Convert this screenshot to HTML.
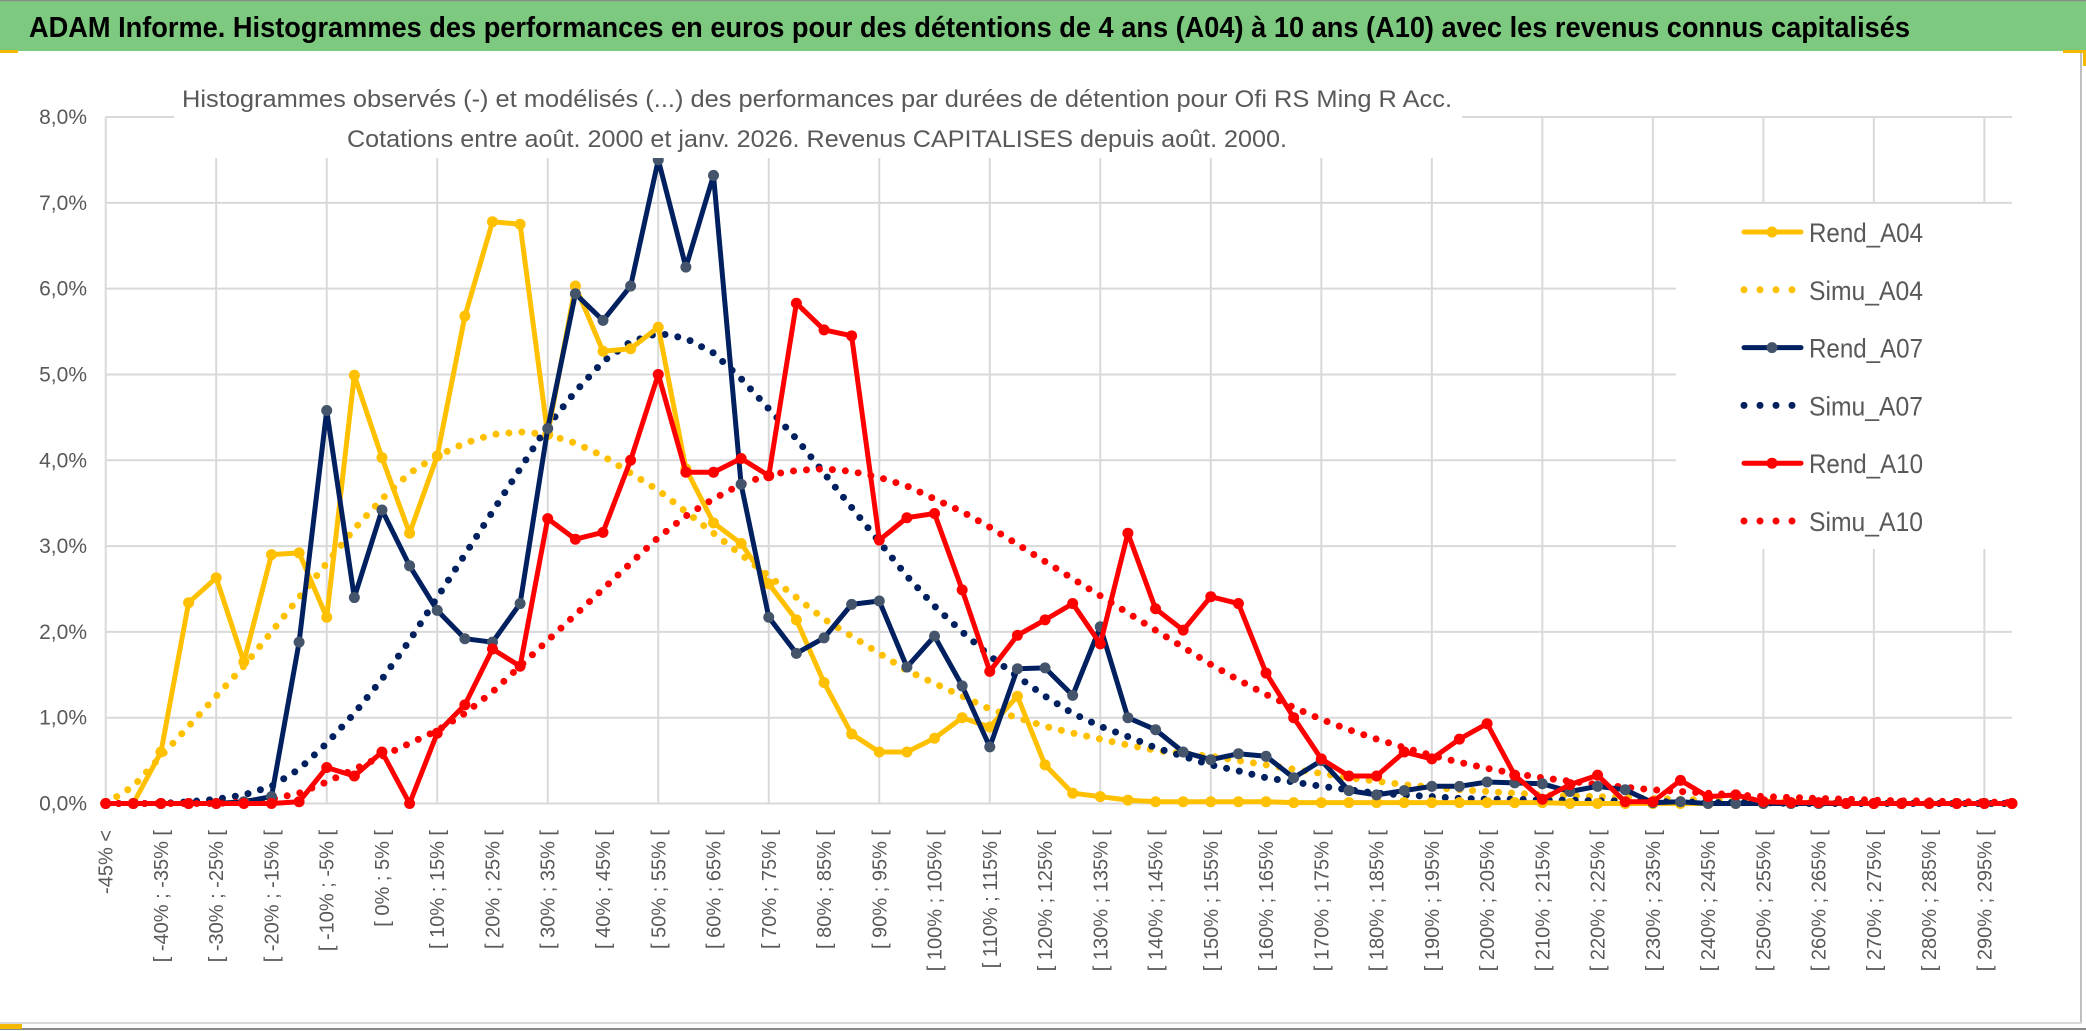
<!DOCTYPE html>
<html><head><meta charset="utf-8">
<style>
html,body{margin:0;padding:0;background:#fff;}
svg{display:block;font-family:"Liberation Sans",sans-serif;}
</style></head>
<body>
<svg id="chart" width="2086" height="1031" viewBox="0 0 2086 1031" xmlns="http://www.w3.org/2000/svg">
  <rect x="0" y="0" width="2086" height="1031" fill="#ffffff"/>
  <rect x="0" y="0" width="2086" height="51" fill="#7dc97f"/>
  <line x1="0" y1="0.5" x2="2086" y2="0.5" stroke="#8a8a8a" stroke-width="1.5"/>
  <text x="29" y="37" font-size="29" font-weight="bold" fill="#000" textLength="1881" lengthAdjust="spacingAndGlyphs">ADAM Informe. Histogrammes des performances en euros pour des détentions de 4 ans (A04) à 10 ans (A10) avec les revenus connus capitalisés</text>
  <rect x="0" y="50" width="18" height="3" fill="#f5b800"/>
  <rect x="2063" y="50" width="23" height="3" fill="#f5b800"/>
  <rect x="2083" y="50" width="3" height="16" fill="#f5b800"/>
  <line x1="2081" y1="53" x2="2081" y2="1023" stroke="#bfbfbf" stroke-width="2"/>
  <line x1="0" y1="1023" x2="2082" y2="1023" stroke="#d9d9d9" stroke-width="2"/>
  <line x1="0" y1="1029" x2="2086" y2="1029" stroke="#8a8a8a" stroke-width="2"/>
  <rect x="0" y="1024" width="22" height="5" fill="#f5b800"/>
  <g id="grid"></g>
  <g id="yaxis"></g>
  <g id="xaxis"></g>
  <g id="series"></g>
  <rect x="174" y="60" width="1288" height="98" fill="#fff"/>
  <text x="182" y="107" font-size="24" fill="#595959" textLength="1270" lengthAdjust="spacingAndGlyphs">Histogrammes observés (-) et modélisés (...) des performances par durées de détention pour Ofi RS Ming R Acc.</text>
  <text x="347" y="147" font-size="24" fill="#595959" textLength="940" lengthAdjust="spacingAndGlyphs">Cotations entre août. 2000 et janv. 2026. Revenus CAPITALISES depuis août. 2000.</text>
  <rect x="1676" y="204" width="336" height="345" fill="#fff"/>
  <g id="legend"></g>
</svg>
<script>
const categories = ["-45% <","[ -45% ; -40% [","[ -40% ; -35% [","[ -35% ; -30% [","[ -30% ; -25% [","[ -25% ; -20% [","[ -20% ; -15% [","[ -15% ; -10% [","[ -10% ; -5% [","[ -5% ; 0% [","[ 0% ; 5% [","[ 5% ; 10% [","[ 10% ; 15% [","[ 15% ; 20% [","[ 20% ; 25% [","[ 25% ; 30% [","[ 30% ; 35% [","[ 35% ; 40% [","[ 40% ; 45% [","[ 45% ; 50% [","[ 50% ; 55% [","[ 55% ; 60% [","[ 60% ; 65% [","[ 65% ; 70% [","[ 70% ; 75% [","[ 75% ; 80% [","[ 80% ; 85% [","[ 85% ; 90% [","[ 90% ; 95% [","[ 95% ; 100% [","[ 100% ; 105% [","[ 105% ; 110% [","[ 110% ; 115% [","[ 115% ; 120% [","[ 120% ; 125% [","[ 125% ; 130% [","[ 130% ; 135% [","[ 135% ; 140% [","[ 140% ; 145% [","[ 145% ; 150% [","[ 150% ; 155% [","[ 155% ; 160% [","[ 160% ; 165% [","[ 165% ; 170% [","[ 170% ; 175% [","[ 175% ; 180% [","[ 180% ; 185% [","[ 185% ; 190% [","[ 190% ; 195% [","[ 195% ; 200% [","[ 200% ; 205% [","[ 205% ; 210% [","[ 210% ; 215% [","[ 215% ; 220% [","[ 220% ; 225% [","[ 225% ; 230% [","[ 230% ; 235% [","[ 235% ; 240% [","[ 240% ; 245% [","[ 245% ; 250% [","[ 250% ; 255% [","[ 255% ; 260% [","[ 260% ; 265% [","[ 265% ; 270% [","[ 270% ; 275% [","[ 275% ; 280% [","[ 280% ; 285% [","[ 285% ; 290% [","[ 290% ; 295% [","[ 295% ; 300% ["];
const yTickLabels = ["0,0%","1,0%","2,0%","3,0%","4,0%","5,0%","6,0%","7,0%","8,0%"];
const yTickValues = [0,1,2,3,4,5,6,7,8];
const rendA04 = [0,0,0.6,2.34,2.63,1.65,2.9,2.92,2.17,4.99,4.03,3.15,4.05,5.68,6.78,6.75,4.3,6.03,5.27,5.3,5.55,3.9,3.27,3.03,2.56,2.14,1.41,0.81,0.6,0.6,0.76,1.0,0.89,1.25,0.45,0.12,0.08,0.04,0.02,0.02,0.02,0.02,0.02,0.01,0.01,0.01,0.01,0.01,0.01,0.01,0.01,0.01,0.01,0,0,0,0,0,0,0,0,0,0,0,0,0,0,0,0,0];
const simuA04 = [0,0.2,0.55,0.9,1.25,1.6,2.0,2.4,2.8,3.2,3.55,3.85,4.05,4.2,4.3,4.33,4.3,4.2,4.05,3.85,3.65,3.4,3.15,2.9,2.65,2.4,2.15,1.95,1.75,1.55,1.4,1.25,1.1,1.0,0.9,0.82,0.75,0.68,0.62,0.58,0.55,0.5,0.45,0.4,0.35,0.3,0.26,0.22,0.19,0.16,0.14,0.12,0.1,0.09,0.08,0.07,0.06,0.05,0.04,0.03,0.03,0.02,0.02,0.01,0.01,0.01,0.01,0,0,0];
const rendA07 = [0,0,0,0,0,0.02,0.08,1.88,4.58,2.4,3.42,2.77,2.25,1.92,1.88,2.33,4.37,5.94,5.63,6.03,7.5,6.25,7.32,3.72,2.17,1.75,1.93,2.32,2.36,1.59,1.95,1.37,0.66,1.57,1.58,1.26,2.06,1.0,0.86,0.6,0.51,0.58,0.55,0.3,0.5,0.15,0.1,0.15,0.2,0.2,0.25,0.24,0.23,0.14,0.2,0.16,0.01,0.02,0,0,0,0,0,0,0,0,0,0,0,0];
const simuA07 = [0,0,0,0.02,0.05,0.1,0.2,0.4,0.7,1.05,1.45,1.9,2.4,2.9,3.4,3.9,4.4,4.8,5.15,5.38,5.48,5.42,5.25,4.95,4.6,4.25,3.85,3.45,3.05,2.65,2.3,2.0,1.72,1.48,1.25,1.05,0.9,0.78,0.65,0.55,0.45,0.38,0.3,0.25,0.2,0.16,0.12,0.1,0.08,0.06,0.05,0.05,0.04,0.04,0.03,0.03,0.02,0.02,0.01,0.01,0.01,0,0,0,0,0,0,0,0,0];
const rendA10 = [0,0,0,0,0,0,0,0.02,0.42,0.32,0.6,0,0.82,1.15,1.8,1.6,3.32,3.08,3.16,4.0,5.0,3.86,3.86,4.02,3.82,5.83,5.52,5.45,3.07,3.33,3.38,2.49,1.54,1.96,2.14,2.33,1.86,3.15,2.27,2.02,2.41,2.33,1.52,1.0,0.52,0.32,0.32,0.6,0.52,0.75,0.93,0.33,0.05,0.22,0.33,0.02,0.02,0.27,0.08,0.1,0.02,0.01,0.01,0,0,0,0,0,0,0];
const simuA10 = [0,0,0,0,0,0.02,0.05,0.12,0.25,0.4,0.55,0.7,0.85,1.05,1.3,1.6,1.9,2.2,2.5,2.8,3.1,3.35,3.55,3.72,3.83,3.88,3.9,3.87,3.8,3.7,3.55,3.4,3.22,3.02,2.82,2.62,2.42,2.22,2.02,1.82,1.62,1.44,1.27,1.12,0.98,0.86,0.75,0.65,0.56,0.48,0.41,0.35,0.3,0.26,0.22,0.19,0.16,0.14,0.12,0.1,0.08,0.07,0.06,0.05,0.04,0.03,0.03,0.02,0.02,0.01];

const NS = "http://www.w3.org/2000/svg";
const X0 = 105.7, X1 = 2012, Y0 = 803.5, Y8 = 117;
function xPos(i){ return X0 + i * (X1 - X0) / (categories.length - 1); }
function yPos(v){ return Y0 - v * (Y0 - Y8) / 8; }
function mk(tag, attrs, parent){ const e = document.createElementNS(NS, tag); for (const k in attrs) e.setAttribute(k, attrs[k]); parent.appendChild(e); return e; }

const grid = document.getElementById('grid');
yTickValues.forEach(function(v, k){
  const l = mk('line', {x1: X0, x2: X1, y1: yPos(v), y2: yPos(v), stroke: '#d9d9d9', 'stroke-width': 2}, grid);
  
  
});
for (let i = 0; i < categories.length; i += 4) {
  const l = mk('line', {x1: xPos(i), x2: xPos(i), y1: Y8, y2: Y0, stroke: '#d9d9d9', 'stroke-width': 2}, grid);
  
  
}
const yaxis = document.getElementById('yaxis');
yTickLabels.forEach(function(t, k){
  const e = mk('text', {x: 87, y: yPos(yTickValues[k]) + 7, 'font-size': 21, fill: '#595959', 'text-anchor': 'end'}, yaxis);
  e.textContent = t;
  
  
});
const xaxis = document.getElementById('xaxis');
categories.forEach(function(c, i){
  if (i % 2 !== 0) return;
  const x = xPos(i) + 7, y = 830;
  const e = mk('text', {x: x, y: y, 'font-size': 20, fill: '#595959', 'text-anchor': 'end', transform: 'rotate(-90 ' + x + ' ' + y + ')'}, xaxis);
  e.textContent = c;
  
  
});

const seriesDefs = [
  {name: 'Simu_A04', vals: simuA04, color: '#ffc000', dotted: true},
  {name: 'Simu_A07', vals: simuA07, color: '#002060', dotted: true},
  {name: 'Simu_A10', vals: simuA10, color: '#ff0000', dotted: true},
  {name: 'Rend_A04', vals: rendA04, color: '#ffc000', marker: '#ffc000'},
  {name: 'Rend_A07', vals: rendA07, color: '#002060', marker: '#44546a'},
  {name: 'Rend_A10', vals: rendA10, color: '#ff0000', marker: '#ff0000'}
];
const sg = document.getElementById('series');
seriesDefs.forEach(function(s){
  const g = mk('g', {}, sg);
  
  
  const pts = s.vals.map(function(v, i){ return xPos(i).toFixed(1) + ',' + yPos(v).toFixed(1); }).join(' ');
  if (s.dotted) {
    const p = mk('polyline', {points: pts, fill: 'none', stroke: s.color, 'stroke-width': 7, 'stroke-linecap': 'round', 'stroke-dasharray': '0 13'}, g);
    
    
  } else {
    const p = mk('polyline', {points: pts, fill: 'none', stroke: s.color, 'stroke-width': 5, 'stroke-linejoin': 'round'}, g);
    
    
    s.vals.forEach(function(v, i){
      const c = mk('circle', {cx: xPos(i), cy: yPos(v), r: 5.5, fill: s.marker}, g);
      
      
    });
  }
});

const legendItems = [
  {name: 'Rend_A04', color: '#ffc000', marker: '#ffc000'},
  {name: 'Simu_A04', color: '#ffc000', dotted: true},
  {name: 'Rend_A07', color: '#002060', marker: '#44546a'},
  {name: 'Simu_A07', color: '#002060', dotted: true},
  {name: 'Rend_A10', color: '#ff0000', marker: '#ff0000'},
  {name: 'Simu_A10', color: '#ff0000', dotted: true}
];
const lg = document.getElementById('legend');
legendItems.forEach(function(it, k){
  const y = 232 + k * 57.8;
  const g = mk('g', {}, lg);
  
  
  if (it.dotted) {
    mk('line', {x1: 1744, x2: 1800, y1: y, y2: y, stroke: it.color, 'stroke-width': 7, 'stroke-linecap': 'round', 'stroke-dasharray': '0 16'}, g);
  } else {
    mk('line', {x1: 1744, x2: 1801, y1: y, y2: y, stroke: it.color, 'stroke-width': 5, 'stroke-linecap': 'round'}, g);
    mk('circle', {cx: 1772, cy: y, r: 5.5, fill: it.marker}, g);
  }
  const t = mk('text', {x: 1809, y: y + 10, 'font-size': 27, fill: '#595959', textLength: 114, lengthAdjust: 'spacingAndGlyphs'}, g);
  t.textContent = it.name;
});
</script>
</body></html>
